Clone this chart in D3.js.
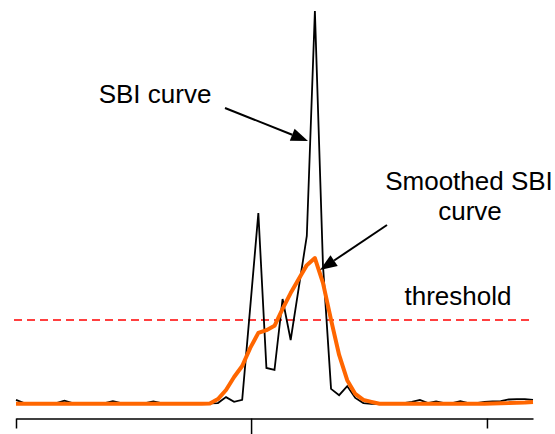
<!DOCTYPE html>
<html>
<head>
<meta charset="utf-8">
<script src="https://cdn.jsdelivr.net/npm/d3@7"></script>
<style>
  html, body { margin: 0; padding: 0; background: #fff; }
  svg { display: block; }
  text { font-family: "Liberation Sans", Arial, sans-serif; }
</style>
</head>
<body>
<svg id="chart" width="555" height="434"></svg>
<script>
// ---- data ----
const frameIndex = d3.range(65); // sample number 0..64
const sbiValues = [1.3, 0.5, 0.3, 0.3, 0.4, 0.5, 1.1, 0.5, 0.3, 0.3, 0.3, 0.5, 1.0, 0.5, 0.3, 0.3,
  0.5, 0.9, 0.5, 0.3, 0.4, 0.3, 0.3, 0.3, 0.4, 0.5, 2.0, 0.8, 1.3, 24.9, 48.7, 9.4,
  8.9, 26.9, 16.5, 29.7, 42.9, 100, 35.5, 4.1, 2.5, 4.8, 1.8, 0.5, 0.3, 0.3, 0.3, 0.3,
  0.5, 0.8, 1.3, 0.5, 0.9, 0.5, 0.5, 1.0, 0.5, 0.5, 0.8, 0.9, 1.0, 1.4, 1.5, 1.5, 1.3];
const smoothedValues = [0.3, 0.3, 0.3, 0.3, 0.3, 0.3, 0.3, 0.3, 0.3, 0.3, 0.3, 0.3, 0.3, 0.3, 0.3, 0.3,
  0.3, 0.3, 0.3, 0.3, 0.3, 0.3, 0.3, 0.3, 0.4, 1.5, 3.8, 7.1, 9.9, 14.5, 18.3, 19.0,
  20.1, 24.4, 28.4, 32.0, 35.5, 37.3, 31.0, 21.6, 12.7, 6.3, 2.8, 1.3, 0.8, 0.3, 0.3, 0.3,
  0.3, 0.3, 0.3, 0.3, 0.3, 0.3, 0.3, 0.3, 0.3, 0.3, 0.3, 0.4, 0.45, 0.5, 0.6, 0.65, 0.75];
const thresholdValue = 21.6;
const xTickValues = [0, 29.1, 58.3];
const labels = {
  sbi: "SBI curve",
  smoothed: ["Smoothed SBI", "curve"],
  threshold: "threshold"
};

// ---- layout ----
const svg = d3.select("#chart");
const x = d3.scaleLinear().domain([0, 64]).range([16, 533]);
const y = d3.scaleLinear().domain([0, 100]).range([405, 11]);
const axisY = 418.5;

// axis
const axis = d3.axisBottom(x).tickValues(xTickValues).tickSize(10).tickSizeOuter(0).tickFormat("");
const gAxis = svg.append("g").attr("transform", `translate(0,${axisY})`).call(axis);
gAxis.select(".domain").attr("stroke", "#000").attr("stroke-width", 1.5);
gAxis.selectAll(".tick line").attr("stroke", "#000").attr("stroke-width", 1.5)
  .attr("y2", (d, i) => i === 1 ? 16 : 10);

// threshold
svg.append("line")
  .attr("x1", 14).attr("x2", 529)
  .attr("y1", y(thresholdValue)).attr("y2", y(thresholdValue))
  .attr("stroke", "#ff0000").attr("stroke-width", 1.5)
  .attr("stroke-dasharray", "8,5");

// SBI curve
const line = d3.line().x((d, i) => x(frameIndex[i])).y(d => y(d));
svg.append("path").datum(sbiValues)
  .attr("d", line).attr("fill", "none")
  .attr("stroke", "#000").attr("stroke-width", 1.8).attr("stroke-linejoin", "miter");

// smoothed curve
svg.append("path").datum(smoothedValues)
  .attr("d", line).attr("fill", "none")
  .attr("stroke", "#ff6600").attr("stroke-width", 4).attr("stroke-linejoin", "round");

// annotations
function arrow(x1, y1, x2, y2) {
  const ang = Math.atan2(y2 - y1, x2 - x1);
  const len = 17, hw = 6.5;
  const bx = x2 - len * Math.cos(ang), by = y2 - len * Math.sin(ang);
  svg.append("line").attr("x1", x1).attr("y1", y1).attr("x2", bx).attr("y2", by)
    .attr("stroke", "#000").attr("stroke-width", 2);
  const px = -Math.sin(ang) * hw, py = Math.cos(ang) * hw;
  svg.append("path")
    .attr("d", `M${x2},${y2}L${bx + px},${by + py}L${bx - px},${by - py}Z`)
    .attr("fill", "#000");
}
arrow(225, 108, 308, 141);
arrow(387, 225, 320, 270);

const fs = 26;
svg.append("text").attr("x", 155).attr("y", 103).attr("text-anchor", "middle")
  .attr("font-size", fs).text(labels.sbi);
svg.append("text").attr("x", 469).attr("y", 190).attr("text-anchor", "middle")
  .attr("font-size", fs).text(labels.smoothed[0]);
svg.append("text").attr("x", 470).attr("y", 220).attr("text-anchor", "middle")
  .attr("font-size", fs).text(labels.smoothed[1]);
svg.append("text").attr("x", 458).attr("y", 305).attr("text-anchor", "middle")
  .attr("font-size", fs).text(labels.threshold);
</script>
</body>
</html>
